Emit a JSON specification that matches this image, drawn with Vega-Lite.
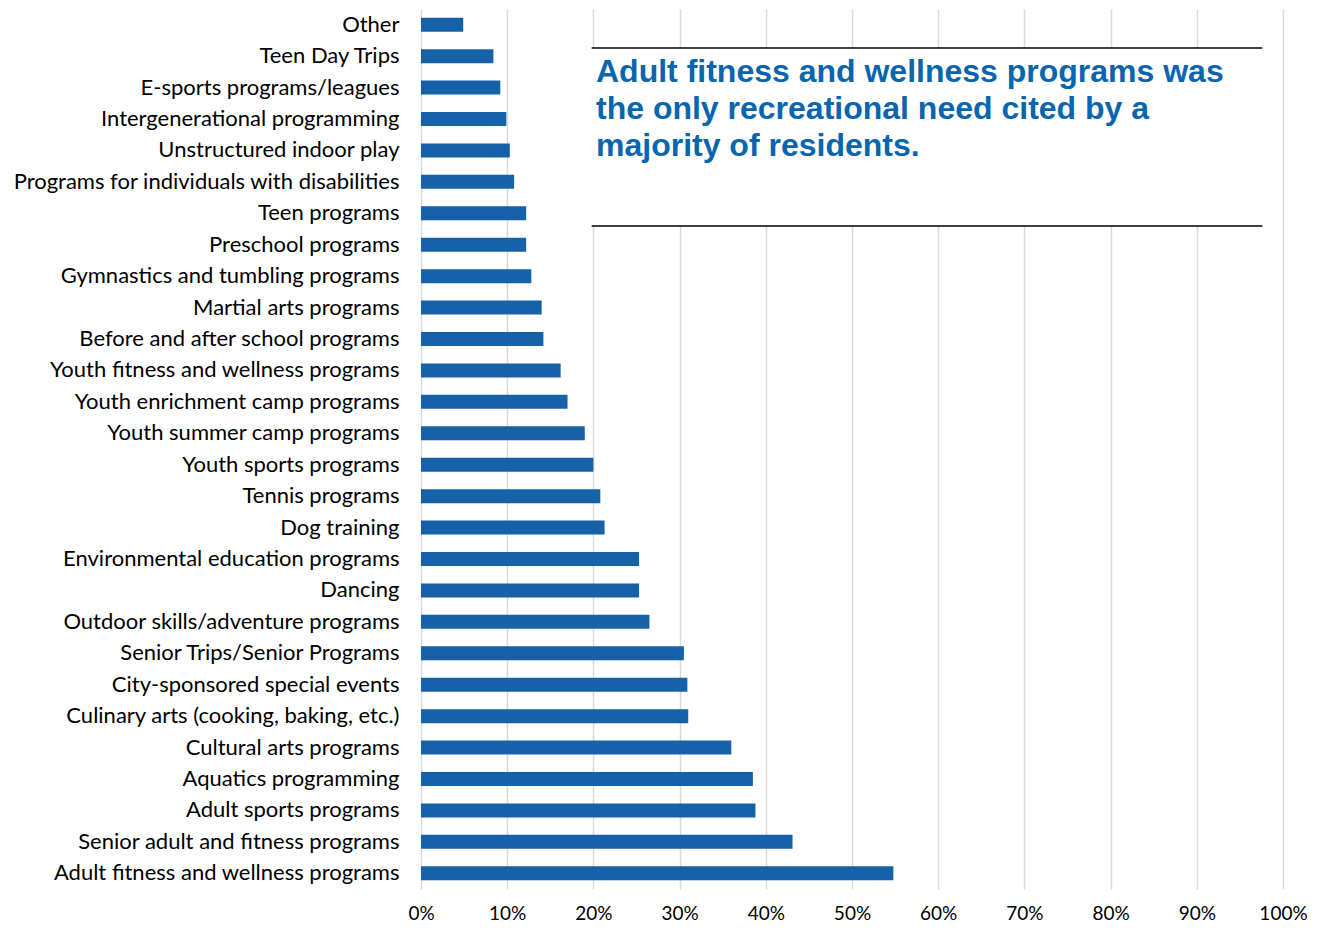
{
  "$schema": "https://vega.github.io/schema/vega-lite/v6.json",
  "width": 862,
  "height": 880,
  "autosize": {"type": "none"},
  "padding": {"left": 421, "top": 9, "right": 36, "bottom": 53},
  "background": "white",
  "config": {"view": {"stroke": null}, "font": "Lato"},
  "layer": [
    {
      "data": {"values": [
        {"need": "Other", "pct": 0.049},
        {"need": "Teen Day Trips", "pct": 0.084},
        {"need": "E-sports programs/leagues", "pct": 0.092},
        {"need": "Intergenerational programming", "pct": 0.099},
        {"need": "Unstructured indoor play", "pct": 0.103},
        {"need": "Programs for individuals with disabilities", "pct": 0.108},
        {"need": "Teen programs", "pct": 0.122},
        {"need": "Preschool programs", "pct": 0.122},
        {"need": "Gymnastics and tumbling programs", "pct": 0.128},
        {"need": "Martial arts programs", "pct": 0.140},
        {"need": "Before and after school programs", "pct": 0.142},
        {"need": "Youth fitness and wellness programs", "pct": 0.162},
        {"need": "Youth enrichment camp programs", "pct": 0.170},
        {"need": "Youth summer camp programs", "pct": 0.190},
        {"need": "Youth sports programs", "pct": 0.200},
        {"need": "Tennis programs", "pct": 0.208},
        {"need": "Dog training", "pct": 0.213},
        {"need": "Environmental education programs", "pct": 0.253},
        {"need": "Dancing", "pct": 0.253},
        {"need": "Outdoor skills/adventure programs", "pct": 0.265},
        {"need": "Senior Trips/Senior Programs", "pct": 0.305},
        {"need": "City-sponsored special events ", "pct": 0.309},
        {"need": "Culinary arts (cooking, baking, etc.)", "pct": 0.310},
        {"need": "Cultural arts programs", "pct": 0.360},
        {"need": "Aquatics programming", "pct": 0.385},
        {"need": "Adult sports programs", "pct": 0.388},
        {"need": "Senior adult and fitness programs ", "pct": 0.431},
        {"need": "Adult fitness and wellness programs", "pct": 0.548}
      ]},
      "mark": {"type": "bar", "size": 14, "color": "#1562A8"},
      "encoding": {
        "y": {
          "field": "need", "type": "nominal", "sort": null, "title": null,
          "scale": {"paddingInner": 0, "paddingOuter": 0},
          "axis": {"ticks": false, "domain": false, "labelFontSize": 22, "labelColor": "#000000", "labelPadding": 22, "labelLimit": 500, "labelFont": "Lato"}
        },
        "x": {
          "field": "pct", "type": "quantitative", "title": null,
          "scale": {"domain": [0, 1], "nice": false},
          "axis": {"values": [0, 0.1, 0.2, 0.3, 0.4, 0.5, 0.6, 0.7, 0.8, 0.9, 1], "format": ".0%", "ticks": false, "domain": false, "grid": true, "gridColor": "#d9d9d9", "gridWidth": 1.5, "labelFontSize": 19, "labelColor": "#000000", "labelPadding": 15, "labelFlush": false, "labelOverlap": false, "labelFont": "Lato"}
        }
      }
    },
    {
      "data": {"values": [{"x1": 0.198, "x2": 0.976, "y1": 0.0443, "y2": 0.2466}]},
      "layer": [
        {
          "mark": {"type": "rect", "fill": "white"},
          "encoding": {
            "x": {"field": "x1", "type": "quantitative"},
            "x2": {"field": "x2"},
            "y": {"field": "y1", "type": "quantitative", "scale": {"domain": [0, 1], "reverse": true, "nice": false}, "axis": null},
            "y2": {"field": "y2"}
          }
        },
        {
          "mark": {"type": "rule", "color": "#000000", "strokeWidth": 1.3},
          "encoding": {
            "x": {"field": "x1", "type": "quantitative"},
            "x2": {"field": "x2"},
            "y": {"field": "y1", "type": "quantitative", "scale": {"domain": [0, 1], "reverse": true, "nice": false}, "axis": null}
          }
        },
        {
          "mark": {"type": "rule", "color": "#000000", "strokeWidth": 1.3},
          "encoding": {
            "x": {"field": "x1", "type": "quantitative"},
            "x2": {"field": "x2"},
            "y": {"field": "y2", "type": "quantitative", "scale": {"domain": [0, 1], "reverse": true, "nice": false}, "axis": null}
          }
        }
      ]
    },
    {
      "data": {"values": [
        {"note": "Adult fitness and wellness programs was\nthe only recreational need cited by a\nmajority of residents.", "x": 0.203, "y": 0.083}
      ]},
      "mark": {"type": "text", "align": "left", "baseline": "alphabetic", "lineBreak": "\n", "lineHeight": 37, "font": "Liberation Sans", "fontWeight": "bold", "fontSize": 32, "color": "#0865AE"},
      "encoding": {
        "text": {"field": "note"},
        "x": {"field": "x", "type": "quantitative"},
        "y": {"field": "y", "type": "quantitative", "scale": {"domain": [0, 1], "reverse": true, "nice": false}, "axis": null}
      }
    }
  ],
  "resolve": {"scale": {"y": "independent"}}
}
